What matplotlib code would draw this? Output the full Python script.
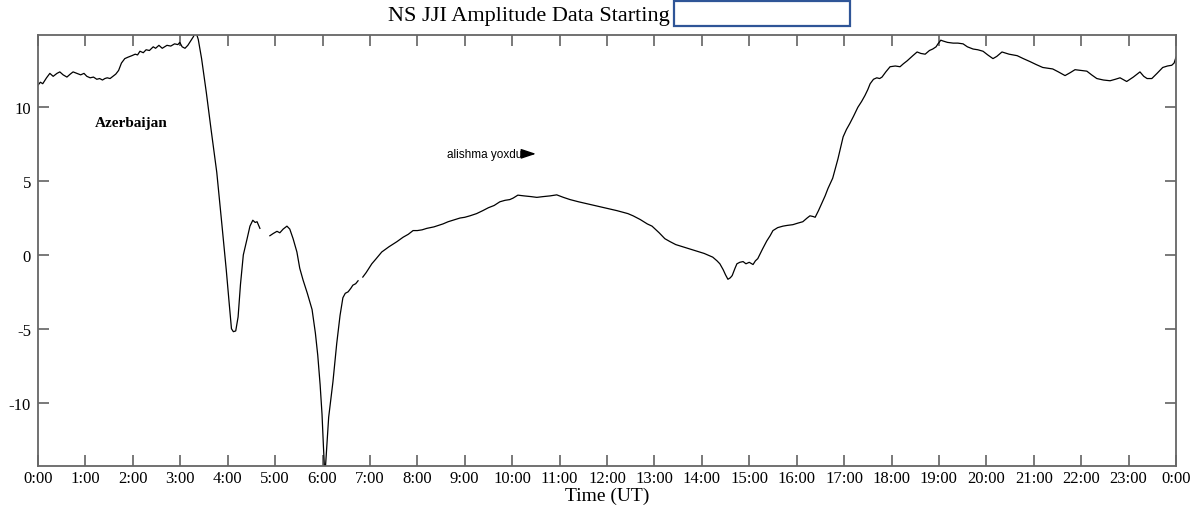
import numpy as np
import matplotlib
matplotlib.use("Agg")
import matplotlib.pyplot as plt
from matplotlib.patches import Rectangle

# Amplitude record, split where the receiver had dropouts (hours UT, dB)
hours_a = [0.00, 0.05, 0.10, 0.18, 0.25, 0.32, 0.40, 0.46, 0.53, 0.61, 0.68, 0.74,
           0.82, 0.90, 0.97, 1.03, 1.10, 1.17, 1.24, 1.30, 1.36, 1.41, 1.46, 1.52,
           1.58, 1.64, 1.70, 1.76, 1.83, 1.90, 1.98, 2.05, 2.10, 2.15, 2.22, 2.28,
           2.35, 2.43, 2.48, 2.55, 2.62, 2.67, 2.72, 2.80, 2.88, 2.95, 2.99, 3.04,
           3.10, 3.16, 3.22, 3.28, 3.32, 3.38, 3.45, 3.55, 3.65, 3.77, 3.88, 3.97,
           4.03, 4.08, 4.12, 4.17, 4.22, 4.27, 4.33, 4.41, 4.47, 4.53, 4.58, 4.62, 4.68]
amp_a = [11.5, 11.7, 11.6, 12.0, 12.3, 12.1, 12.3, 12.4, 12.2, 12.05, 12.25, 12.4,
         12.3, 12.2, 12.3, 12.1, 12.0, 12.05, 11.9, 11.95, 11.85, 11.95, 12.0, 11.95,
         12.1, 12.25, 12.5, 13.0, 13.3, 13.4, 13.5, 13.6, 13.55, 13.8, 13.7, 13.9,
         13.85, 14.1, 14.0, 14.2, 14.0, 14.1, 14.2, 14.15, 14.3, 14.25, 14.4, 14.1,
         14.0, 14.2, 14.5, 14.8, 15.2, 14.6, 13.3, 11.0, 8.5, 5.6, 2.0, -1.0,
         -3.2, -5.0, -5.2, -5.15, -4.2, -2.0, 0.0, 1.1, 1.95, 2.35, 2.2, 2.25, 1.8]

hours_b = [4.89, 4.96, 5.04, 5.10, 5.17, 5.25, 5.31, 5.38, 5.46, 5.52, 5.59, 5.68,
           5.78, 5.85, 5.90, 5.95, 5.99, 6.02, 6.05, 6.08, 6.13, 6.22, 6.30, 6.37,
           6.43, 6.48, 6.54, 6.60, 6.64, 6.70, 6.75]
amp_b = [1.3, 1.45, 1.6, 1.5, 1.75, 1.95, 1.75, 1.1, 0.2, -0.9, -1.7, -2.6,
         -3.7, -5.3, -6.8, -8.8, -10.8, -13.0, -15.0, -13.5, -11.0, -8.6, -6.0, -4.1,
         -2.9, -2.6, -2.5, -2.25, -2.05, -1.95, -1.75]

hours_c = [6.85, 6.92, 7.04, 7.12, 7.25, 7.40, 7.57, 7.70, 7.81, 7.91, 8.00, 8.10,
           8.20, 8.35, 8.54, 8.65, 8.75, 8.90, 9.00, 9.11, 9.25, 9.38, 9.50, 9.62,
           9.74, 9.85, 9.95, 10.02, 10.12, 10.25, 10.40, 10.52, 10.65, 10.80, 10.94, 11.08,
           11.22, 11.40, 11.60, 11.79, 12.00, 12.21, 12.44, 12.55, 12.70, 12.85, 12.95, 13.10,
           13.22, 13.33, 13.45, 13.60, 13.75, 13.90, 14.05, 14.23, 14.32, 14.38, 14.45, 14.50,
           14.55, 14.60, 14.64, 14.70, 14.74, 14.80, 14.87, 14.93, 15.00, 15.08, 15.13, 15.18,
           15.28, 15.37, 15.44, 15.50, 15.60, 15.71, 15.80, 15.92, 16.02, 16.13, 16.22, 16.28,
           16.35, 16.39, 16.46, 16.53, 16.60, 16.66, 16.76, 16.87, 16.98, 17.05, 17.12, 17.20,
           17.29, 17.37, 17.44, 17.50, 17.55, 17.62, 17.69, 17.75, 17.80, 17.88, 17.97, 18.08,
           18.18, 18.25, 18.33, 18.45, 18.54, 18.62, 18.71, 18.80, 18.87, 18.94, 18.98, 19.04,
           19.08, 19.18, 19.30, 19.40, 19.51, 19.60, 19.72, 19.82, 19.93, 20.03, 20.14, 20.22,
           20.33, 20.48, 20.65, 20.78, 20.92, 21.05, 21.19, 21.30, 21.40, 21.52, 21.66, 21.77,
           21.87, 22.00, 22.12, 22.22, 22.33, 22.47, 22.61, 22.72, 22.82, 22.96, 23.10, 23.24,
           23.32, 23.39, 23.49, 23.60, 23.72, 23.82, 23.91, 23.96, 24.00]
amp_c = [-1.5, -1.2, -0.6, -0.3, 0.2, 0.55, 0.9, 1.2, 1.4, 1.65, 1.65, 1.7,
         1.8, 1.9, 2.1, 2.25, 2.35, 2.5, 2.55, 2.65, 2.8, 3.0, 3.2, 3.35,
         3.6, 3.7, 3.75, 3.85, 4.05, 4.0, 3.95, 3.9, 3.95, 4.0, 4.07, 3.9,
         3.75, 3.6, 3.45, 3.3, 3.15, 3.0, 2.8, 2.65, 2.4, 2.1, 1.95, 1.5,
         1.1, 0.9, 0.7, 0.55, 0.4, 0.25, 0.1, -0.15, -0.4, -0.6, -1.0, -1.35,
         -1.65, -1.55, -1.4, -0.9, -0.6, -0.5, -0.45, -0.6, -0.5, -0.65, -0.4, -0.25,
         0.4, 0.95, 1.3, 1.65, 1.85, 1.95, 2.0, 2.05, 2.15, 2.25, 2.5, 2.65,
         2.6, 2.55, 3.0, 3.5, 4.0, 4.5, 5.2, 6.5, 8.0, 8.5, 8.9, 9.4,
         10.0, 10.4, 10.8, 11.2, 11.6, 11.9, 12.0, 11.95, 12.05, 12.4, 12.75, 12.8,
         12.75, 12.95, 13.15, 13.5, 13.75, 13.65, 13.6, 13.85, 13.95, 14.1, 14.3, 14.55,
         14.5, 14.4, 14.35, 14.35, 14.3, 14.1, 13.95, 13.9, 13.8, 13.55, 13.3, 13.45,
         13.75, 13.6, 13.5, 13.3, 13.1, 12.9, 12.7, 12.65, 12.6, 12.4, 12.15, 12.35,
         12.55, 12.5, 12.45, 12.2, 11.95, 11.85, 11.8, 11.9, 12.0, 11.75, 12.05, 12.4,
         12.1, 11.95, 11.95, 12.3, 12.7, 12.8, 12.85, 13.0, 13.4]

hour_ticks = list(range(25))
hour_labels = [f"{h % 24}:00" for h in hour_ticks]
amp_ticks = [-10, -5, 0, 5, 10]
amp_labels = ["-10", "-5", "0", "5", "10"]

serif = ["Liberation Serif", "DejaVu Serif"]
plt.rcParams["font.family"] = serif

W, H = 1199, 506
fig = plt.figure(figsize=(W / 100, H / 100), dpi=100)
ax = fig.add_axes([38 / W, 1 - 467 / H, (1176 - 38) / W, (467 - 36) / H])

for hx, ay in ((hours_a, amp_a), (hours_b, amp_b), (hours_c, amp_c)):
    ax.plot(hx, ay, color="black", lw=0.9)

ax.set_xlim(0, 24)
ax.set_ylim(-14.3, 14.9)
ax.set_xticks(hour_ticks)
ax.set_xticklabels(hour_labels)
ax.set_yticks(amp_ticks)
ax.set_yticklabels(amp_labels)
ax.tick_params(direction="in", length=8, width=1.1, color="#555555",
               labelsize=12, top=True, right=True, pad=5)
ax.tick_params(axis="x", pad=3)
for s in ax.spines.values():
    s.set_color("#666666")
    s.set_linewidth(1.3)

# axis title placed in figure space so it sits just under the hour labels
fig.text(ax.get_position().x0 + ax.get_position().width / 2, 1 - 501 / H,
         "Time (UT)", fontsize=14, ha="center", va="baseline")

ax.text(1.96, 9.0, "Azerbaijan", fontsize=11, fontweight="bold",
        ha="center", va="center")
ax.text(8.62, 6.85, "alishma yoxdu", fontsize=8.5, family="Liberation Sans",
        ha="left", va="center")
ax.annotate("", xy=(10.56, 6.85), xytext=(10.22, 6.85),
            arrowprops=dict(arrowstyle="-|>,head_length=0.9,head_width=0.3",
                            color="black", lw=1.0))

fig.text(670 / W, 1 - 16 / H, "NS JJI Amplitude Data Starting", fontsize=16,
         ha="right", va="center")
fig.patches.append(Rectangle((674 / W, 1 - 27 / H), 176 / W, 25 / H,
                             transform=fig.transFigure, fill=False,
                             edgecolor="#2F5597", lw=1.6))

fig.savefig("out.png", dpi=100)
